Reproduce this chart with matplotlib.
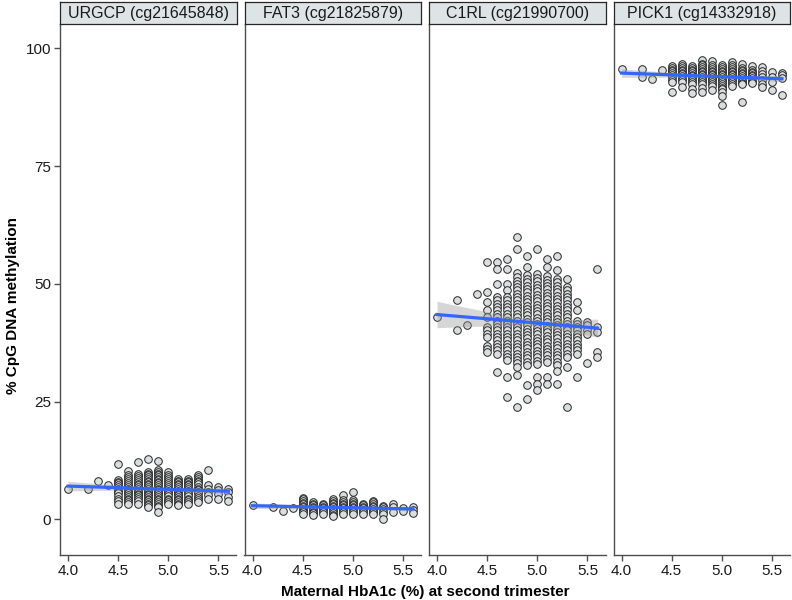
import matplotlib
matplotlib.use("Agg")
import matplotlib.pyplot as plt
import numpy as np

plt.rcParams['font.family'] = ['Liberation Sans', 'DejaVu Sans']

# HbA1c levels (x) shared by every panel
hba1c_levels = [4.0, 4.2, 4.3, 4.4, 4.5, 4.6, 4.7, 4.8, 4.9, 5.0, 5.1, 5.2, 5.3, 5.4, 5.5, 5.6]

panel_titles = ["URGCP (cg21645848)", "FAT3 (cg21825879)", "C1RL (cg21990700)", "PICK1 (cg14332918)"]

# % methylation, one list per HbA1c level
urgcp = [
    [6.5], [6.5], [8.1], [7.2],
    [11.7, 8.3, 7.9, 7.6, 7.2, 6.9, 6.5, 6.2, 5.8, 5.5, 5.0, 4.4, 3.9, 3.3],
    [10.2, 9.4, 9.0, 8.6, 8.1, 7.6, 7.2, 6.9, 6.5, 6.2, 5.8, 5.5, 5.1, 4.8, 4.4, 4.0, 3.6, 3.2],
    [12.1, 9.7, 9.2, 8.8, 8.3, 7.9, 7.5, 7.2, 6.8, 6.5, 6.1, 5.8, 5.4, 5.1, 4.7, 4.4, 3.9, 3.3],
    [12.7, 10.1, 9.7, 9.4, 9.0, 8.6, 8.2, 7.9, 7.5, 7.2, 6.8, 6.5, 6.1, 5.8, 5.4, 5.1, 4.7, 4.4,
     4.0, 3.7, 3.3, 3.0, 2.5],
    [12.3, 10.4, 10.0, 9.7, 9.3, 9.0, 8.6, 8.3, 7.9, 7.6, 7.2, 6.9, 6.5, 6.2, 5.8, 5.5, 5.1, 4.8,
     4.4, 4.0, 3.7, 3.3, 2.9, 2.6, 1.6],
    [10.0, 9.5, 9.0, 8.5, 8.1, 7.6, 7.2, 6.8, 6.5, 6.1, 5.8, 5.3, 4.9, 4.4, 4.0, 3.6, 3.2],
    [8.6, 8.2, 7.9, 7.5, 7.2, 6.8, 6.5, 6.1, 5.8, 5.4, 5.1, 4.7, 4.4, 4.0, 3.7, 3.3, 3.0],
    [8.6, 8.2, 7.9, 7.5, 7.2, 6.8, 6.5, 6.1, 5.8, 5.3, 4.9, 4.4, 4.0, 3.6, 3.2],
    [9.4, 9.0, 8.6, 8.2, 7.9, 7.4, 6.9, 6.5, 6.2, 5.8, 5.5, 5.0, 4.6, 4.1, 3.7],
    [10.5, 7.2, 6.5, 5.8, 5.1, 4.4],
    [6.9, 6.2, 5.3, 4.4],
    [6.5, 5.8, 4.8, 3.9],
]

fat3 = [
    [3.0], [2.5], [1.8], [2.4],
    [4.6, 4.2, 3.9, 3.5, 3.2, 2.9, 2.5, 2.2, 1.8, 1.5, 1.1],
    [3.7, 3.3, 3.0, 2.7, 2.3, 2.0, 1.6, 1.3, 0.9],
    [3.3, 3.0, 2.6, 2.3, 1.9, 1.6, 1.2],
    [4.2, 3.9, 3.5, 3.2, 2.8, 2.5, 2.1, 1.7, 1.3, 1.0, 0.6],
    [5.1, 4.0, 3.7, 3.3, 3.0, 2.6, 2.3, 1.9, 1.6, 1.2],
    [5.8, 4.0, 3.7, 3.3, 3.0, 2.6, 2.3, 1.9, 1.6, 1.2],
    [3.3, 3.0, 2.6, 2.3, 1.9, 1.6, 1.2],
    [3.9, 3.6, 3.2, 2.9, 2.5, 2.2, 1.8, 1.5, 1.1],
    [2.8, 2.5, 2.1, 1.6, 1.1, 0.1],
    [3.2, 2.5, 1.6],
    [2.3, 1.8],
    [2.5, 1.9, 1.3],
]

c1rl = [
    [43.0],
    [46.6, 40.1],
    [41.2],
    [47.8],
    [54.6, 48.3, 46.1, 44.4, 43.0, 40.8, 40.1, 39.4, 38.7, 36.9, 36.2, 35.5],
    [54.6, 53.2, 50.0, 47.2, 46.5, 45.8, 45.1, 44.4, 43.7, 43.0, 42.2, 41.5, 40.8, 40.1, 39.4,
     38.7, 38.0, 37.3, 36.6, 35.9, 35.2, 31.3],
    [55.3, 53.2, 50.0, 48.6, 47.2, 46.5, 45.8, 45.1, 44.4, 43.7, 43.0, 42.2, 41.5, 40.8, 40.1,
     39.4, 38.7, 38.0, 37.3, 36.6, 35.9, 35.2, 34.5, 33.8, 30.2, 26.0],
    [59.9, 57.5, 52.2, 51.4, 50.7, 50.0, 49.3, 48.6, 47.9, 47.2, 46.5, 45.8, 45.1, 44.4, 43.7,
     43.0, 42.2, 41.5, 40.8, 40.1, 39.4, 38.7, 38.0, 37.3, 36.6, 35.9, 35.2, 34.5, 33.8, 33.1,
     32.3, 30.6, 23.8],
    [56.0, 53.6, 51.8, 51.0, 50.3, 49.6, 48.9, 48.2, 47.5, 46.8, 46.1, 45.4, 44.7, 44.0, 43.3,
     42.6, 41.9, 41.2, 40.5, 39.8, 39.1, 38.4, 37.7, 37.0, 36.3, 35.6, 34.9, 34.2, 33.5, 32.8,
     28.5, 25.6],
    [57.3, 52.0, 51.2, 50.5, 49.8, 49.1, 48.4, 47.7, 47.0, 46.3, 45.6, 44.9, 44.2, 43.5, 42.8,
     42.1, 41.4, 40.7, 40.0, 39.3, 38.6, 37.9, 37.2, 36.5, 35.8, 35.1, 34.4, 33.7, 33.0, 30.2,
     28.8, 27.4],
    [55.3, 53.6, 51.7, 50.9, 50.2, 49.5, 48.8, 48.1, 47.4, 46.7, 46.0, 45.3, 44.6, 43.9, 43.2,
     42.5, 41.8, 41.1, 40.4, 39.7, 39.0, 38.3, 37.6, 36.9, 36.2, 35.5, 34.8, 34.1, 33.4, 30.2,
     28.8],
    [56.0, 52.9, 51.1, 50.4, 49.6, 48.9, 48.2, 47.5, 46.8, 46.1, 45.4, 44.7, 44.0, 43.3, 42.6,
     41.9, 41.2, 40.5, 39.8, 39.1, 38.4, 37.7, 37.0, 36.3, 35.6, 34.9, 34.2, 33.5, 32.8, 31.4,
     28.8],
    [51.1, 49.3, 48.6, 47.9, 47.2, 46.5, 45.8, 45.1, 44.4, 43.7, 43.0, 42.2, 41.5, 40.8, 40.1,
     39.4, 38.7, 38.0, 37.3, 36.6, 35.9, 35.2, 34.5, 32.3, 23.8],
    [46.1, 44.4, 42.2, 41.5, 40.8, 40.1, 39.4, 38.7, 38.0, 37.3, 36.6, 35.9, 35.2, 30.2],
    [41.9, 41.2, 40.1, 39.4, 33.1],
    [53.2, 40.8, 39.8, 35.5, 34.5],
]

pick1 = [
    [95.7], [95.7, 93.9], [93.6], [95.5],
    [96.2, 95.9, 95.5, 95.2, 94.8, 94.4, 93.9, 93.4, 92.9, 90.7],
    [96.6, 96.2, 95.9, 95.5, 95.2, 94.8, 94.5, 94.1, 93.8, 93.3, 92.9, 91.8],
    [96.2, 95.9, 95.5, 95.2, 94.8, 94.4, 94.1, 93.7, 93.3, 92.9, 92.5, 91.4, 90.5],
    [97.6, 96.7, 96.4, 96.0, 95.7, 95.3, 95.0, 94.6, 94.3, 93.9, 93.5, 93.2, 92.8, 92.5, 91.7,
     90.7],
    [97.3, 96.4, 96.0, 95.7, 95.3, 95.0, 94.6, 94.3, 93.9, 93.6, 93.2, 92.9, 92.5, 92.1, 91.2],
    [96.4, 96.0, 95.7, 95.3, 95.0, 94.6, 94.3, 93.9, 93.6, 93.2, 92.9, 92.5, 92.1, 91.7, 91.4,
     90.7, 90.0, 87.9],
    [97.1, 96.4, 96.0, 95.7, 95.3, 95.0, 94.6, 94.3, 93.9, 93.6, 93.2, 92.9, 92.5, 92.1],
    [96.6, 95.9, 95.5, 95.2, 94.8, 94.5, 94.1, 93.8, 93.4, 93.1, 92.7, 92.4, 88.6],
    [96.2, 95.5, 95.1, 94.8, 94.4, 94.1, 93.7, 93.3, 92.9, 92.6],
    [96.0, 95.3, 94.6, 93.9, 93.2, 92.5, 91.8],
    [95.0, 93.9, 92.9, 91.1],
    [94.8, 94.3, 93.8, 90.2],
]

panels = [urgcp, fat3, c1rl, pick1]

W, H = 792, 600
fig = plt.figure(figsize=(W / 100, H / 100), dpi=100)

lefts = [60, 244.5, 429, 613.5]
pw = 176.5
ax_top, ax_bot = 24, 555
strip_top = 1.5

point_fill = "#d9dedf"
edge = "#262626"
axis_col = "#4d4d4d"

for i, (title, cols) in enumerate(zip(panel_titles, panels)):
    ax = fig.add_axes([lefts[i] / W, 1 - ax_bot / H, pw / W, (ax_bot - ax_top) / H])
    xs = np.concatenate([[lv] * len(c) for lv, c in zip(hba1c_levels, cols)])
    ys = np.concatenate([np.array(c, dtype=float) for c in cols])

    ax.scatter(xs, ys, s=30, facecolor=point_fill, edgecolor=edge, linewidth=0.7, zorder=2)

    # linear fit + 95% CI
    b, a = np.polyfit(xs, ys, 1)
    n = len(xs)
    resid = ys - (a + b * xs)
    s = np.sqrt(np.sum(resid ** 2) / (n - 2))
    xm = xs.mean()
    sxx = np.sum((xs - xm) ** 2)
    xg = np.linspace(xs.min(), xs.max(), 80)
    yg = a + b * xg
    se = s * np.sqrt(1 / n + (xg - xm) ** 2 / sxx)
    ax.fill_between(xg, yg - 1.97 * se, yg + 1.97 * se, color="#999999", alpha=0.4, lw=0, zorder=3)
    ax.plot(xg, yg, color="#3366FF", lw=2.3, zorder=4)

    ax.set_xlim(3.92, 5.68)
    ax.set_ylim(-7.6, 105.2)
    ax.set_xticks([4.0, 4.5, 5.0, 5.5])
    ax.set_xticklabels(["4.0", "4.5", "5.0", "5.5"])
    ax.set_yticks([0, 25, 50, 75, 100])
    for sp in ["top", "right"]:
        ax.spines[sp].set_visible(False)
    for sp in ["left", "bottom"]:
        ax.spines[sp].set_color(axis_col)
        ax.spines[sp].set_linewidth(1.0)
    ax.tick_params(axis="both", length=4, width=1, color=axis_col, labelsize=11,
                   labelcolor="#1a1a1a", pad=2.5)
    if i > 0:
        ax.tick_params(axis="y", left=False, labelleft=False)

    # facet strip
    sax = fig.add_axes([lefts[i] / W, 1 - ax_top / H, pw / W, (ax_top - strip_top) / H])
    sax.set_facecolor("#dee4e6")
    sax.set_xticks([])
    sax.set_yticks([])
    for sp in sax.spines.values():
        sp.set_color(edge)
        sp.set_linewidth(0.9)
    sax.text(0.5, 0.45, title, ha="center", va="center", fontsize=11.5, color="#1a1a1a",
             transform=sax.transAxes)

fig.text(425 / W, 1 - 592 / H, "Maternal HbA1c (%) at second trimester", ha="center", va="center",
         fontsize=11, fontweight="bold")
fig.text(13 / W, 1 - 305 / H, "% CpG DNA methylation", ha="center", va="center", rotation=90,
         fontsize=11, fontweight="bold")

fig.savefig("out.png", dpi=100)
